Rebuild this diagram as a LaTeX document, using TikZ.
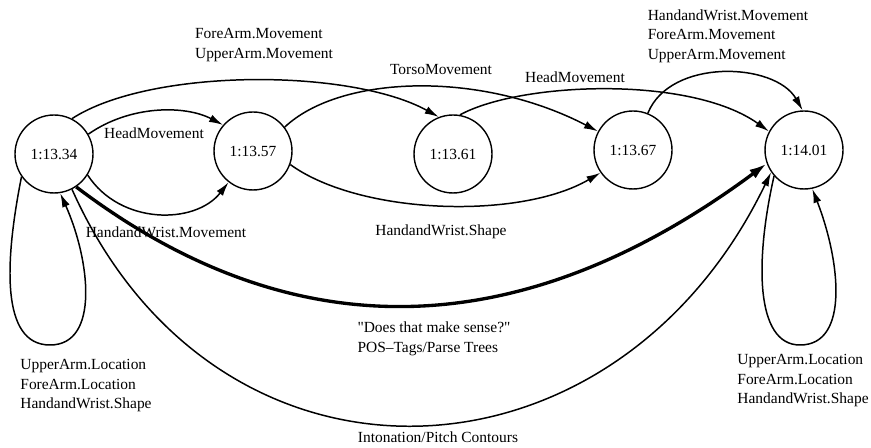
\documentclass[tikz,border=0pt]{standalone}
\usepackage{fontspec}
\setmainfont{Liberation Serif}
\usetikzlibrary{arrows.meta,positioning}
\tikzset{state/.style={
            draw,
            circle,
            line width=0.8pt,
            inner sep=0pt,
            minimum size=1.56cm
        },
        trans/.style={
            -{Latex[length=8pt,width=4.5pt]},
            line width=0.85pt
        },
        heavytrans/.style={
            -{Latex[length=10pt,width=6pt]},
            line width=1.9pt
        },
        lbl/.style={
            align=left,
            inner sep=0pt
        }
    }
\begin{document}
\begin{tikzpicture}[x=0.02cm,y=-0.02cm,font=\fontsize{8.8}{11.1}\selectfont]
        \useasboundingbox (0,0) rectangle (871,448);

        % states
        \node[state] (A) at (54,154) {1:13.34};
        \node[state] (B) at (253,151) {1:13.57};
        \node[state] (C) at (453,154) {1:13.61};
        \node[state] (D) at (633,150) {1:13.67};
        \node[state] (E) at (804,150) {1:14.01};

        % transitions
        \draw[trans] (A.30) .. controls (130,105) and (185,105) .. (B.139);
        \draw[trans] (A.-32) .. controls (120,225) and (195,225) .. (B.232);
        \draw[trans] (A.63) .. controls (150,68) and (350,68) .. (C.111);
        \draw[trans] (B.37) .. controls (340,75) and (480,70) .. (D.152);
        \draw[trans] (B.-20) .. controls (360,215) and (520,220) .. (D.215);
        \draw[trans] (C.80) .. controls (520,82) and (690,75) .. (E.152);
        \draw[trans] (D.68) .. controls (670,58) and (775,62) .. (E.92);
        \draw[heavytrans] (A.-56) .. controls (318,370) and (549,325) .. (E.200);
        \draw[trans] (A.-63) .. controls (217,514) and (614,498) .. (E.214);

        % self loops
        \draw[trans] (A.215) .. controls (5,260) and (0,345) .. (50,345)
            .. controls (100,345) and (90,260) .. (A.-81);
        \draw[trans] (E.221) .. controls (755,260) and (755,345) .. (800,345)
            .. controls (850,345) and (840,260) .. (E.-78);

        % labels
        \node[lbl] (lHeadAB) at (154,133) {HeadMovement};
        \node[lbl] (lHandAB) at (166,232) {HandandWrist.Movement};
        \node[lbl] (lArmAC) at (264,45) {ForeArm.Movement\\UpperArm.Movement};
        \node[lbl] (lTorso) at (441,70) {TorsoMovement};
        \node[lbl] (lHeadCE) at (575,77) {HeadMovement};
        \node[lbl] (lArmDE) at (728,36) {HandandWrist.Movement\\ForeArm.Movement\\UpperArm.Movement};
        \node[lbl] (lShapeBD) at (441,232) {HandandWrist.Shape};
        \node[lbl] (lSense) at (434,339) {\textquotedbl Does that make sense?\textquotedbl\\POS--Tags/Parse Trees};
        \node[lbl] (lPitch) at (438,437) {Intonation/Pitch Contours};
        \node[lbl] (lLoopA) at (86,386) {UpperArm.Location\\ForeArm.Location\\HandandWrist.Shape};
        \node[lbl] (lLoopE) at (803,381) {UpperArm.Location\\ForeArm.Location\\HandandWrist.Shape};

    \end{tikzpicture}
\end{document}
